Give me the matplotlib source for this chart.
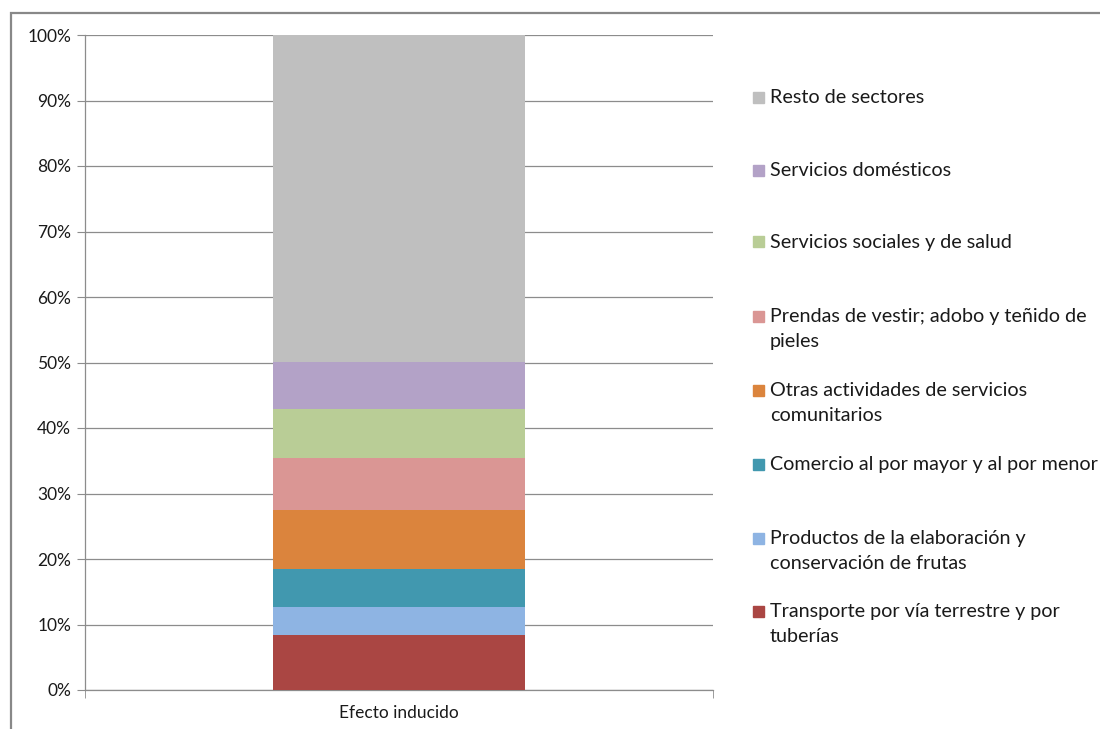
import matplotlib.pyplot as plt
from matplotlib.patches import Rectangle
from matplotlib.ticker import FuncFormatter

plt.rcParams['font.family'] = ['Lato', 'DejaVu Sans']

# sector shares of the induced effect (bottom to top), in %
sectores = [
    "Transporte por vía terrestre y por\ntuberías",
    "Productos de la elaboración y\nconservación de frutas",
    "Comercio al por mayor y al por menor",
    "Otras actividades de servicios\ncomunitarios",
    "Prendas de vestir; adobo y teñido de\npieles",
    "Servicios sociales y de salud",
    "Servicios domésticos",
    "Resto de sectores",
]
valores = [8.35, 4.25, 5.8, 9.1, 7.9, 7.5, 7.2, 49.9]
colores = ["#AA4643", "#8EB4E3", "#4198AF", "#DB843D",
           "#DA9694", "#B9CD96", "#B3A2C7", "#BFBFBF"]
categoria = "Efecto inducido"
yticks = [0, 10, 20, 30, 40, 50, 60, 70, 80, 90, 100]

W, H = 1100, 729
fig = plt.figure(figsize=(11, 7.29), dpi=100)
ax = fig.add_axes([85 / W, 39 / H, 628 / W, 655 / H])

base = 0
for v, c, s in zip(valores, colores, sectores):
    ax.bar(0, v, width=0.4, bottom=base, color=c, label=s, zorder=3)
    base += v

ax.set_xlim(-0.5, 0.5)
ax.set_ylim(0, 100)
ax.set_yticks(yticks)
ax.yaxis.set_major_formatter(FuncFormatter(lambda v, p: f"{v:.0f}%"))
ax.grid(axis='y', color='#8c8c8c', linewidth=0.9, zorder=0)
for side in ['top', 'right']:
    ax.spines[side].set_visible(False)
for side in ['left', 'bottom']:
    ax.spines[side].set_color('#8c8c8c')
    ax.spines[side].set_linewidth(0.9)
ax.tick_params(axis='y', length=6, color='#8c8c8c', labelsize=12.5,
               labelcolor='#1a1a1a', pad=4)
ax.set_xticks([0])
ax.set_xticklabels([categoria])
ax.set_xticks([-0.5, 0.5], minor=True)
ax.tick_params(axis='x', which='major', length=0, labelsize=12.5,
               labelcolor='#1a1a1a', pad=11)
ax.tick_params(axis='x', which='minor', length=6, color='#8c8c8c')

# legend, drawn top-down with the first series at the bottom
leg_y = [97, 170, 242, 316, 390, 464, 538, 611]
for s, c, y in zip(sectores[::-1], colores[::-1], leg_y):
    fig.patches.append(Rectangle((753 / W, 1 - (y + 5.5) / H), 11 / W, 11 / H,
                                 transform=fig.transFigure, color=c))
    fig.text(770 / W, 1 - (y - 8) / H, s, fontsize=14.2, color='#1a1a1a',
             va='top', ha='left', linespacing=1.6)

# chart frame
fig.patches.append(Rectangle((11 / W, -0.05), 1.1, 1 - 12.5 / H + 0.05,
                             transform=fig.transFigure, fill=False,
                             edgecolor='#888888', linewidth=1.6))

fig.savefig("out.png", dpi=100)
